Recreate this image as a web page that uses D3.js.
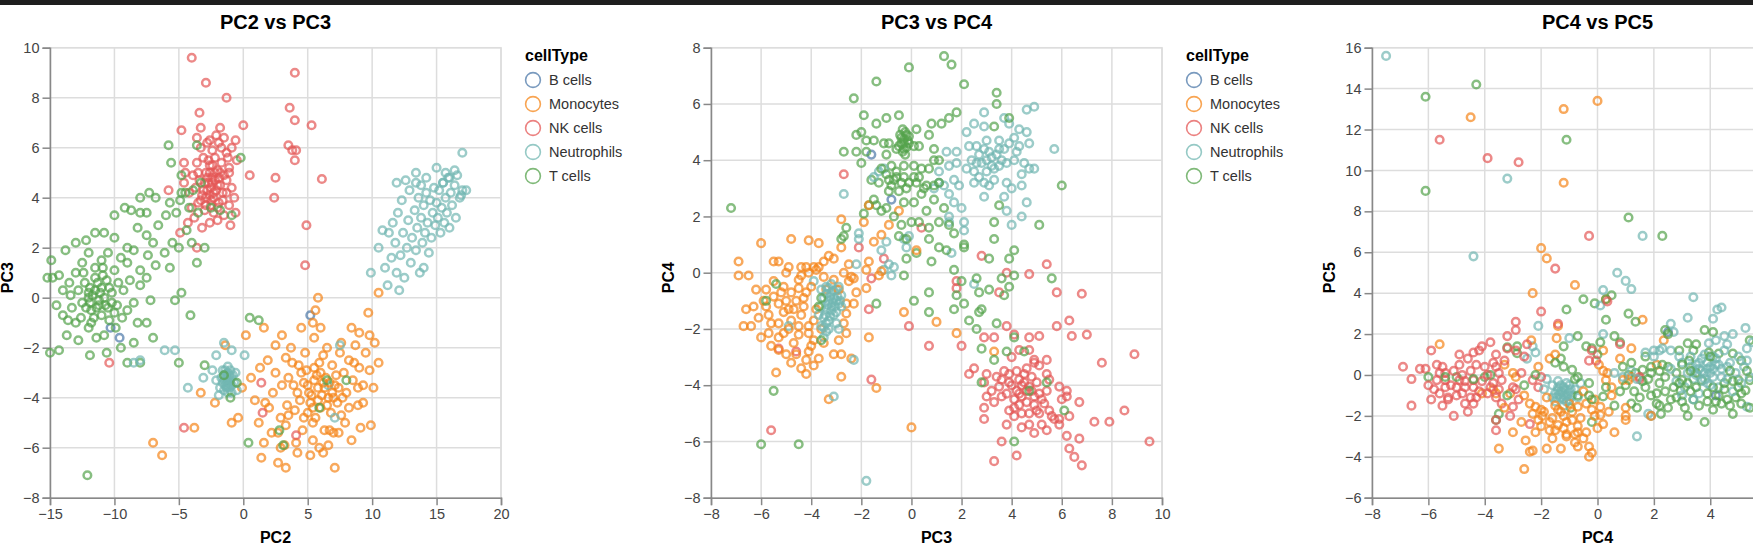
<!DOCTYPE html>
<html>
<head>
<meta charset="utf-8">
<script src="https://cdn.jsdelivr.net/npm/d3@7"></script>
<style>
  body { margin: 0; background: #fff; }
  svg { display: block; font-family: "Liberation Sans", Arial, sans-serif; }
</style>
</head>
<body>
<svg id="chart" width="1753" height="552"></svg>
<script>
"use strict"

// Categories + colours
const cellTypes = ['B cells', 'Monocytes', 'NK cells', 'Neutrophils', 'T cells']
const typeColors = ['#4c78a8', '#f58518', '#e45756', '#72b7b2', '#54a24b']

// Axis domains / ticks per principal component
const pc2Domain = [-15, 20]
const pc3Domain = [-8, 10]
const pc4Domain = [-8, 8]
const pc5Domain = [-6, 16]
const pc2Ticks = [-15, -10, -5, 0, 5, 10, 15, 20]
const pc3Ticks = [-8, -6, -4, -2, 0, 2, 4, 6, 8, 10]
const pc4Ticks = [-8, -6, -4, -2, 0, 2, 4, 6, 8]
const pc5Ticks = [-6, -4, -2, 0, 2, 4, 6, 8, 10, 12, 14, 16]

/****** PC2 vs PC3 ******/
const pc2pc3_B = [[-9.6,-1.6],[5.2,-0.7],[-10.3,-1.2]]
const pc2pc3_Mono = [
  [-7.0,-5.8],[-6.3,-6.3],[-3.8,-5.2],[-2.2,-4.2],[-0.9,-5.0],[-0.4,-4.8],[-0.1,-3.6],[0.9,-4.1],[1.2,-5.0],[1.4,-6.4],
  [1.6,-5.8],[1.7,-4.2],[2.0,-4.4],[2.7,-6.6],[3.3,-6.8],[2.9,-6.0],[3.2,-5.9],[4.1,-5.8],[4.2,-6.2],[2.9,-4.8],
  [3.5,-4.7],[2.7,-5.4],[3.3,-5.1],[2.2,-5.4],[5.4,-5.7],[5.9,-6.0],[6.6,-5.9],[7.1,-6.8],[8.4,-5.7],[9.1,-5.2],
  [9.9,-5.1],[7.9,-5.0],[10.1,-3.6],[8.9,-4.3],[9.3,-4.2],[6.3,-5.3],[6.7,-5.3],[7.0,-5.4],[7.4,-5.4],[4.7,-4.8],
  [5.4,-5.0],[5.6,-4.8],[2.5,-3.0],[3.0,-3.5],[3.5,-3.2],[3.8,-2.6],[4.2,-3.8],[4.5,-3.0],[4.8,-2.2],[5.0,-3.5],
  [5.2,-4.2],[5.5,-2.8],[5.8,-3.6],[6.0,-4.4],[6.2,-2.3],[6.4,-3.2],[6.6,-4.0],[6.9,-2.7],[7.1,-3.5],[7.3,-4.2],
  [7.5,-2.2],[7.8,-3.0],[8.0,-3.8],[8.2,-2.5],[8.5,-3.3],[8.7,-1.9],[9.0,-2.8],[9.3,-3.5],[9.5,-2.2],[9.8,-1.5],
  [10.2,-1.8],[10.5,-2.6],[8.4,-1.2],[9.0,-1.4],[10.5,0.2],[9.7,-0.6],[5.8,0.0],[5.6,-0.5],[5.4,-1.0],[5.5,-1.6],
  [6.0,-1.2],[6.5,-2.0],[7.6,-1.8],[4.5,-1.2],[3.0,-1.5],[2.5,-1.9],[3.7,-2.0],[4.0,-4.5],[4.6,-5.3],[5.2,-6.3],
  [6.2,-6.2],[5.0,-4.6],[6.1,-3.9],[6.8,-4.6],[7.6,-4.7],[8.2,-4.4],[3.4,-4.3],[2.3,-3.8],[1.9,-2.5],[1.3,-2.8],
  [0.6,-3.2],[-1.4,-1.9],[-3.3,-3.8],[0.2,-1.5],[1.6,-1.2],[5.7,-3.1],[6.3,-3.6],[5.3,-3.9],[4.4,-4.1],[7.0,-4.0],
  [6.7,-3.4],[5.9,-2.6],[4.9,-2.9],[3.9,-3.5],[8.6,-2.6],[7.4,-3.6],
  [5.5,-3.3],[6.0,-3.0],[6.5,-4.3],[5.8,-4.1],[6.2,-3.4],[5.1,-3.8],[4.7,-3.4],[7.2,-3.1],[7.7,-4.0],[6.9,-3.8],
  [5.4,-4.4],[4.3,-2.7],[3.3,-2.4],[8.9,-3.6],[9.8,-2.9]
]
const pc2pc3_NK = [
  [-4.0,9.6],[-2.9,8.6],[-1.3,8.0],[4.0,9.0],[3.6,7.6],[4.0,7.1],[5.3,6.9],[3.5,6.1],[3.8,5.9],[4.1,5.9],
  [4.0,5.5],[2.5,4.8],[6.1,4.75],[2.4,4.0],[-3.4,7.4],[-4.8,6.7],[-3.3,6.8],[-1.8,6.8],[0.0,6.9],[-3.6,6.4],
  [-2.6,6.3],[-2.1,6.5],[-1.7,6.0],[-0.6,6.3],[-0.9,6.0],[-0.5,5.5],[0.5,4.9],[-1.2,5.6],[-1.1,5.0],[-1.3,4.7],
  [-4.6,5.4],[-4.5,5.0],[-4.6,4.6],[-5.8,4.3],
  [-4.3,3.0],[-3.8,3.2],[-3.2,2.8],[-2.6,3.0],[-2.0,3.1],[-1.5,3.3],[-1.0,2.9],[-0.6,3.4],
  [-4.0,3.6],[-3.5,3.8],[-3.0,3.5],[-2.5,3.7],[-2.0,3.6],[-1.6,3.9],[-1.1,3.7],[-0.7,4.0],
  [-4.2,4.2],[-3.7,4.4],[-3.2,4.1],[-2.8,4.3],[-2.3,4.2],[-1.8,4.5],[-1.3,4.2],[-0.9,4.4],
  [-3.9,4.9],[-3.4,4.7],[-2.9,5.0],[-2.4,4.8],[-2.0,5.1],[-1.5,4.9],[-1.1,5.2],
  [-3.6,5.4],[-3.1,5.6],[-2.6,5.3],[-2.2,5.6],[-1.7,5.4],[-1.3,5.8],
  [-3.3,6.0],[-2.8,6.2],[-2.4,5.9],[-1.9,6.2],[-1.5,6.4],
  [-2.7,4.6],[-2.5,4.4],[-2.2,4.7],[-2.9,4.0],[-2.6,5.0],[-3.0,4.6],[-2.3,4.0],[-1.9,4.8],[-2.4,5.3],[-2.1,4.3],
  [-2.6,4.1],[-2.4,4.6],[-2.8,4.8],[-2.2,5.0],[-3.1,4.3],[-2.0,4.5],[-2.5,3.9],[-2.7,5.5],[-1.8,5.0],[-3.3,3.9],
  [-2.3,3.4],[-1.6,4.2],[-3.5,5.0],[-2.9,3.7],[-1.9,3.8],
  [-10.4,-2.6],[-4.6,-5.2],[1.5,-4.6],[1.4,-3.4],[4.1,-5.5],[4.9,2.9],[4.8,1.3],[-4.9,2.6],[-3.6,2.0]
]
const pc2pc3_Neu = [
  [11.0,1.2],[11.2,0.5],[11.5,1.6],[11.8,2.2],[11.9,1.0],[12.2,1.7],[12.4,2.6],[12.5,0.8],[12.7,2.0],[12.8,3.1],
  [13.0,1.4],[13.1,2.4],[13.3,3.5],[13.4,1.9],[13.5,2.8],[13.6,4.0],[13.8,3.2],[13.9,2.2],[14.0,3.7],[14.1,2.6],
  [14.2,4.2],[14.3,3.0],[14.5,3.9],[14.6,2.4],[14.7,3.4],[14.8,4.4],[14.9,2.9],[15.0,3.8],[15.1,3.2],[15.2,4.3],
  [15.3,2.6],[15.4,3.6],[15.5,4.6],[15.6,3.0],[15.7,4.0],[15.8,3.4],[15.9,4.8],[16.0,2.8],[16.1,4.2],[16.2,3.7],
  [16.4,4.5],[16.5,3.2],[16.6,4.9],[16.8,4.0],[17.0,4.3],[17.0,5.8],[17.3,4.3],[16.9,4.1],[13.4,5.0],[11.9,4.6],
  [12.6,4.7],[13.4,4.6],[16.0,4.8],[15.5,4.6],[12.0,3.4],[12.3,3.9],[12.9,4.3],[11.6,3.0],[10.8,2.7],[10.5,2.0],
  [11.3,2.6],[9.9,1.0],[13.7,1.0],[14.4,1.8],[12.1,0.3],[14.0,1.2],[16.4,5.1],[15.0,5.2],[14.2,4.8],[13.8,4.5],
  [15.7,5.0],
  [-1.6,-3.4],[-1.5,-3.1],[-1.4,-3.5],[-1.3,-3.2],[-1.2,-3.4],[-1.1,-3.1],[-1.0,-3.3],[-0.9,-3.5],[-1.3,-3.6],[-1.1,-3.6],
  [-1.2,-3.0],[-1.4,-2.9],[-1.0,-2.9],[-0.8,-3.1],[-1.5,-3.7],[-1.2,-3.8],[-0.9,-3.8],[-1.7,-3.2],[-1.6,-2.9],[-0.7,-3.4],
  [-1.3,-3.3],[-1.15,-3.25],[-1.05,-3.45],[-1.35,-3.05],[-1.25,-3.55],[-0.95,-3.15],[-1.45,-3.3],[-1.2,-2.75],[-1.8,-3.6],[-0.6,-3.0],
  [-1.9,-3.9],[-0.5,-3.7],[-2.1,-3.3],
  [-4.3,-3.6],[7.1,-4.8],[6.6,-3.5],[-8.5,-2.6],[-8.0,-2.5],[-6.1,-2.1],[-5.3,-2.1],[-2.1,-2.3],[-0.9,-2.1],[-1.5,-1.8],
  [7.5,-1.9],[-2.4,-2.9],[0.1,-2.3],[-3.1,-3.2]
]
const pc2pc3_T = [
  [-15.0,-2.2],[-14.3,-2.1],[-15.2,0.8],[-14.8,0.8],[-14.3,0.9],[-14.9,1.5],[-13.8,1.9],[-13.0,2.2],[-12.2,2.3],[-11.5,2.6],
  [-10.8,2.6],[-10.0,2.4],[-10.0,3.3],[-9.2,3.6],[-8.7,3.5],[-8.0,3.4],[-8.0,4.0],[-7.5,3.4],
  [-14.0,0.3],[-13.5,0.6],[-13.0,1.0],[-12.5,1.4],[-12.0,1.8],[-11.5,1.2],[-11.0,1.5],[-10.5,1.8],[-10.0,1.1],[-9.5,1.6],
  [-9.0,1.4],[-8.8,0.7],[-8.0,0.5],[-7.5,0.8],[-7.2,-0.1],[-7.0,-1.6],[-7.5,-1.0],
  [-14.5,-0.3],[-14.0,-0.7],[-13.3,-0.4],[-13.0,-1.0],[-12.5,-0.2],[-12.0,0.2],[-11.8,-0.5],[-11.2,-0.1],[-11.0,0.4],[-10.6,0.7],
  [-10.2,0.2],[-9.8,-0.3],[-9.3,0.3],[-9.0,-0.5],[-8.5,-0.2],[-8.2,-1.0],
  [-13.7,-1.5],[-12.8,-1.7],[-12.0,-1.2],[-11.4,-1.6],[-10.8,-1.5],[-10.4,-0.9],[-9.9,-1.2],[-9.5,-2.0],[-9.0,-2.6],[-8.0,-2.6],
  [-8.5,-1.8],[-10.6,-2.2],[-11.9,-2.3],
  [-12.0,0.0],[-11.5,0.3],[-11.2,-0.3],[-10.8,0.0],[-11.6,-0.8],[-10.5,-0.4],[-12.3,0.6],[-11.9,-0.2],[-10.9,0.9],[-11.3,0.6],
  [-12.6,-0.8],[-10.0,-0.6],
  [-11.7,0.1],[-11.4,-0.4],[-11.1,0.2],[-10.7,-0.3],[-11.9,0.4],[-12.2,-0.4],[-10.4,0.4],[-11.5,0.8],[-11.0,-0.7],[-12.8,0.3],
  [-13.4,0.1],[-10.2,-0.2],[-9.7,0.6],[-12.4,1.0],[-11.8,-1.0],[-10.9,1.2],[-13.6,-0.9],[-9.4,-0.8],
  [-9.0,2.0],[-8.5,1.9],[-8.2,2.8],[-7.5,2.5],[-7.0,2.2],[-6.6,2.9],[-6.0,3.3],[-5.7,3.8],[-5.2,3.4],[-4.9,3.9],
  [-4.5,4.2],[-4.2,3.6],[-3.9,4.3],[-3.5,3.4],[-3.3,4.6],[-5.5,2.2],[-6.1,1.8],[-5.7,1.2],[-5.0,2.0],[-4.4,2.7],
  [-4.0,2.2],[-6.8,1.3],[-7.4,1.7],[-8.0,1.1],[-4.8,0.2],[-4.1,-0.7],[-3.6,1.4],[-3.0,2.0],[-5.3,-0.1],
  [-5.8,6.1],[-3.6,6.1],[-5.6,5.4],[-4.8,4.9],[-0.2,5.6],[-7.3,4.2],[-6.8,4.0],[-4.8,4.2],[-2.5,3.6],[-1.8,3.5],
  [-0.9,3.3],[0.5,-0.8],[1.2,-0.9],[-12.1,-7.1],[0.4,-5.8],[2.8,-5.3],[3.1,-5.9],[5.9,-4.4],[-1.0,-4.0],[-3.0,-2.7],
  [-5.0,-2.6],[-1.5,-3.1],[-0.5,-3.4],[8.0,-3.3],[6.5,-3.3]
]

/****** PC3 vs PC4 ******/
const pc3pc4_B = [[-1.6,4.2],[-0.8,2.6]]
const pc3pc4_Mono = [
  [-6.0,1.05],[-4.8,1.2],[-4.1,1.15],[-3.7,1.05],[-6.9,0.4],[-6.9,-0.1],[-6.5,-0.1],[-5.5,0.4],[-5.3,0.4],[-4.9,0.2],
  [-4.4,0.2],[-4.2,0.2],[-3.9,0.2],[-3.7,0.2],[-3.1,0.5],[-2.5,0.3],[-2.3,-0.2],[-2.5,-0.3],[-5.5,-0.3],[-5.1,-0.5],
  [-4.8,-0.7],[-4.5,-0.55],[-4.2,-0.7],[-6.3,-1.2],[-5.9,-1.0],[-5.5,-0.85],[-5.3,-1.1],[-5.8,-1.2],[-6.1,-1.6],[-5.7,-1.5],
  [-5.1,-1.4],[-4.9,-1.3],[-4.8,-1.7],[-5.3,-1.8],[-6.7,-1.9],[-6.4,-1.9],[-6.0,-2.3],[-5.7,-2.15],[-5.3,-2.3],[-5.1,-2.15],
  [-4.5,-2.2],[-4.1,-1.9],[-5.3,-2.75],[-4.6,-2.9],[-4.1,-2.8],[-3.7,-3.05],[-4.2,-3.1],[-4.4,-3.4],[-4.2,-3.6],[-5.4,-3.55],
  [-4.8,-3.2],[-3.1,-2.9],[-2.8,-2.9],[-2.8,-3.7],[-2.4,-3.05],[-3.3,-4.5],[-4.5,-0.25],[-4.1,0.0],[-3.8,0.1],[-3.5,-0.15],
  [-3.1,-0.25],[-2.7,0.0],[-2.4,-0.15],[-2.6,-1.1],[-2.3,-1.1],[-2.6,-1.45],[-2.7,-1.8],[-2.6,-2.15],[-2.9,-2.4],[-4.3,-1.2],
  [-3.9,-1.7],[-4.5,-1.9],[-4.1,-2.15],[-2.8,1.9],[-2.8,0.9],[-1.9,1.8],[-1.7,2.4],[-1.5,1.1],[-1.2,1.35],[-0.9,1.7],
  [-1.7,0.4],[-1.8,0.1],[-1.8,-0.55],[-1.2,0.05],[-1.3,-0.1],[-1.7,-2.3],[-1.4,-4.1],[-0.3,-1.4],[1.0,-1.75],[0.0,-5.5],
  [0.2,0.8],[1.8,-2.15],[3.3,-2.8],[-0.5,2.2],[-4.6,-1.0],[-4.0,-0.5],[-3.4,-0.6],[-5.0,-1.0],[-4.4,-1.5],[-5.6,-2.6],
  [-3.5,-2.5],[-3.9,-2.4],[-4.7,-2.5],[-5.0,0.0],[-6.2,-0.6],[-3.3,0.6],[-2.2,-0.7],[-6.6,-1.3],
  [-4.7,-1.3],[-5.2,-0.7],[-4.3,-0.9],[-3.8,-1.3],[-5.6,-1.8],[-4.9,-2.0],[-4.0,-2.6],[-3.6,-2.0],[-5.8,-0.6],[-4.4,-0.1],
  [-3.5,0.4],[-2.9,-0.6],[-5.0,-2.9],[-3.9,-3.3]
]
const pc3pc4_NK = [
  [-2.7,3.5],[0.4,1.6],[-2.1,0.9],[-1.6,-0.2],[-1.7,-1.3],[-0.1,-1.9],[0.7,-2.6],[-1.6,-3.8],[-5.6,-5.6],[-5.3,-2.7],
  [-4.6,-2.8],[-1.1,0.5],[2.0,-2.6],[1.8,-0.3],[1.8,-0.55],[2.8,0.6],[3.8,0.0],[4.7,-0.05],[5.4,0.3],[5.8,-0.7],
  [6.8,-0.75],[5.8,-1.9],[6.3,-1.7],[6.4,-2.25],[7.0,-2.2],[3.5,-0.7],[3.8,-1.9],[8.9,-2.9],[7.6,-3.2],[8.5,-4.9],
  [7.3,-5.3],[7.9,-5.3],[9.5,-6.0],[6.2,-5.8],[6.7,-5.9],[6.3,-6.25],[6.5,-6.55],[6.8,-6.85],[3.3,-6.7],[4.2,-6.5],
  [3.6,-6.0],[2.9,-5.2],[2.9,-2.3],[3.3,-2.3],[4.1,-2.2],[4.7,-2.3],[5.1,-2.25],[2.3,-3.6],[2.5,-3.4],[3.0,-3.6],
  [3.4,-3.7],[3.7,-3.5],[3.9,-3.6],[4.2,-3.5],[4.5,-3.6],[4.9,-3.2],[5.1,-3.3],[5.4,-3.6],[2.9,-3.9],[3.2,-4.2],
  [3.5,-4.05],[3.8,-4.3],[4.1,-4.5],[4.3,-4.3],[4.7,-4.05],[4.9,-4.4],[5.1,-4.3],[5.4,-4.2],[3.0,-4.4],[3.3,-4.6],
  [3.9,-4.9],[4.3,-4.7],[4.7,-5.0],[5.0,-4.9],[5.3,-4.65],[5.6,-5.1],[5.9,-5.2],[6.0,-4.5],[6.2,-4.4],[6.3,-5.1],
  [6.7,-4.6],[3.8,-5.4],[4.1,-5.1],[4.4,-5.5],[4.7,-5.4],[4.9,-5.7],[5.2,-5.4],[5.4,-5.6],[5.7,-5.2],[5.9,-5.4],
  [2.9,-4.8],[4.0,-3.0],[4.3,-2.75],[4.7,-2.75],[4.9,-3.1],[5.4,-3.1],[5.5,-3.8],[5.0,-3.9],[5.9,-4.05],[6.2,-4.2],
  [4.4,-4.0],[4.6,-4.6],[4.2,-4.2],[4.8,-4.2],[4.5,-3.9],[4.0,-4.0],[3.6,-3.8],[4.8,-3.7],
  [4.4,-4.4],[4.6,-4.2],[4.3,-3.8],[4.9,-4.7],[4.1,-4.8],[5.2,-4.5],[3.9,-3.9],[4.6,-3.4],[5.1,-5.0],[3.6,-4.4],
  [5.5,-4.9],[4.4,-5.0]
]
const pc3pc4_Neu = [
  [4.9,5.9],[4.6,5.8],[2.9,5.7],[2.5,5.3],[2.2,5.0],[2.9,5.2],[3.0,4.7],[2.6,4.5],[2.3,4.5],[2.7,4.2],
  [3.1,4.3],[3.5,4.7],[3.7,5.5],[3.9,5.3],[4.1,4.8],[4.3,5.1],[4.6,5.0],[4.7,4.6],[4.3,4.5],[5.7,4.4],
  [4.5,3.9],[4.7,3.7],[4.9,3.7],[4.4,3.5],[4.4,3.1],[4.6,2.5],[4.0,3.0],[3.8,3.2],[3.7,2.7],[3.8,2.2],
  [4.4,2.0],[4.0,1.7],[2.2,3.7],[2.5,3.6],[2.7,3.4],[3.0,3.6],[3.3,3.7],[3.5,3.8],[3.8,3.9],[2.5,3.2],
  [2.9,3.2],[3.1,3.1],[2.9,2.7],[1.4,4.3],[1.8,4.3],[1.5,3.8],[1.8,3.9],[1.1,3.6],[1.3,3.1],[1.7,3.3],
  [1.9,3.1],[1.1,3.2],[0.9,3.0],[1.5,2.8],[1.7,2.5],[2.0,2.3],[2.1,1.8],[2.1,1.5],[1.5,2.0],[1.5,1.8],
  [1.6,0.7],[-1.3,3.6],[-1.1,3.7],[-1.5,3.4],[-2.7,2.8],[-2.1,1.4],[-2.1,1.2],[-2.2,0.3],[-1.2,0.8],[-1.0,1.1],
  [-0.7,0.2],[-0.8,-0.1],[-1.1,0.1],[-0.9,0.3],[-0.3,1.2],[-0.1,1.3],[-0.2,0.9],[2.5,-0.4],[-1.8,-7.4],[-3.1,-4.4],
  [-2.3,-3.1],[-4.9,-1.9],[-3.9,-0.3],[-2.9,-2.0],
  [3.0,4.0],[3.2,4.1],[2.8,3.9],[3.4,4.2],[3.6,4.0],[2.6,3.9],[3.9,4.6],[4.2,4.3],[3.3,3.3],[2.4,4.0],
  [3.7,4.4],[4.1,4.0],[3.2,3.8],[2.9,4.4],[3.5,4.4],
  [-3.6,-0.6],[-3.4,-0.5],[-3.2,-0.7],[-3.0,-0.6],[-2.8,-0.8],[-3.5,-0.9],[-3.3,-1.0],[-3.1,-0.9],[-2.9,-1.1],[-3.6,-1.2],
  [-3.4,-1.3],[-3.2,-1.2],[-3.0,-1.4],[-2.8,-1.2],[-3.5,-1.6],[-3.3,-1.7],[-3.1,-1.5],[-3.6,-1.9],[-3.4,-2.1],[-3.5,-2.3],
  [-3.3,-2.0],[-3.0,-1.8],[-3.2,-0.4],[-2.9,-0.5],[-3.7,-1.5],
  [-3.25,-0.85],[-3.15,-1.05],[-3.05,-1.2],[-3.35,-1.15],[-3.2,-1.35],[-2.95,-0.85],[-3.4,-0.75],[-3.1,-0.65],[-3.45,-1.5],[-3.25,-1.55],
  [-3.5,-1.95],[-3.4,-1.8],[-3.0,-1.0],[-2.85,-1.0],[-3.3,-0.55]
]
const pc3pc4_T = [
  [-7.2,2.3],[-2.3,6.2],[-1.4,6.8],[-0.1,7.3],[1.3,7.7],[1.6,7.4],[2.1,6.7],[3.4,6.4],[3.4,6.0],[-1.9,5.6],
  [-1.0,5.5],[-0.5,5.6],[-1.4,5.3],[0.2,5.1],[0.8,5.3],[1.2,5.3],[1.5,5.5],[1.8,5.7],[3.3,5.2],[3.9,5.5],
  [-2.2,4.9],[-2.0,5.0],[-1.8,4.7],[-1.5,4.7],[-2.7,4.3],[-2.2,4.3],[-2.0,3.9],[-1.8,4.3],
  [-0.4,4.8],[-0.2,4.9],[-0.3,4.4],[-0.1,4.6],[-0.5,4.5],[-0.25,5.0],[-0.35,4.3],[-0.15,4.7],[-0.3,4.6],[-0.45,4.9],
  [-0.3,4.75],[-0.2,4.45],[-0.4,4.6],[-0.25,4.2],[-0.1,4.85],[-0.35,5.1],
  [-1.1,4.6],[-0.9,4.6],[-0.6,4.4],[-1.0,4.2],[0.1,4.5],[0.3,4.5],[0.7,4.9],[0.9,4.4],[0.9,4.0],[1.1,4.0],
  [0.7,3.7],[0.4,3.7],[0.1,3.8],[-0.3,3.8],[-0.8,3.8],[-1.6,3.3],[-1.3,3.2],[-0.9,3.3],[-0.6,3.4],[-0.3,3.4],
  [0.1,3.4],[0.3,3.4],[0.6,3.1],[0.9,3.1],[1.1,3.2],[-0.3,2.5],[0.1,2.5],[0.4,2.8],[-1.7,2.4],[-1.4,2.4],
  [-1.0,2.3],[-1.9,2.1],[-0.4,1.7],[0.0,1.8],[0.3,1.8],[0.7,1.6],[-0.5,1.3],[-0.2,1.2],[0.2,0.7],[0.7,1.2],
  [1.1,0.9],[1.4,0.8],[1.1,1.8],[1.5,1.7],[1.7,1.4],[2.1,1.0],[2.1,0.9],[-0.2,0.5],[0.8,0.4],[-2.6,1.6],
  [-2.7,1.3],[-2.8,1.2],[-0.3,-0.1],[1.7,0.1],[2.0,-0.3],[1.8,-0.8],[2.1,-1.1],[1.7,-1.3],[0.7,-0.7],[0.7,-1.4],
  [0.1,-1.0],[-1.4,-1.1],[2.3,-1.7],[2.6,-2.0],[2.7,-1.4],[2.8,-1.3],[2.7,-0.7],[2.6,-0.2],[3.1,-0.6],[3.3,1.8],
  [3.3,1.2],[3.1,0.5],[3.5,2.4],[4.1,0.8],[3.9,0.5],[4.1,-0.1],[3.6,-0.2],[3.7,-0.8],[3.9,-0.5],[5.1,1.7],
  [5.6,-0.2],[6.0,3.1],[3.4,-1.8],[2.8,-2.7],[3.3,-3.1],[3.8,-2.8],[4.5,-2.8],[4.1,-2.3],[2.8,-3.9],[5.4,-3.9],
  [6.1,-4.9],[4.1,-6.0],[-6.0,-6.1],[-4.5,-6.1],[-5.5,-4.2],[-5.8,-1.0],[-5.4,-0.4],[-3.6,-0.9],[-3.7,-1.2],[-3.6,-2.4],
  [4.7,-4.2],[-1.0,3.5],[-0.8,3.1],[-0.6,3.6],[-0.4,3.2],[-0.2,3.0],[0.2,3.2],[0.5,3.0],[-1.2,3.7],[-0.9,2.9],
  [-1.5,2.6],[-1.2,2.2],[0.6,2.2],[0.9,2.6],[1.3,2.3],[-0.7,2.0],[-0.7,3.3],[-0.5,2.9],[-0.1,3.2]
]

/****** PC4 vs PC5 ******/
const pc4pc5_B = [[2.5,2.1],[4.2,-1.0]]
const pc4pc5_Mono = [
  [-5.6,1.5],[-2.0,6.2],[-1.8,5.7],[-0.8,4.4],[-2.3,4.0],[-1.4,2.4],[-2.35,1.7],[-1.45,1.8],[0.3,3.7],[1.6,2.7],
  [2.35,1.7],[0.2,1.2],[0.05,0.5],[0.2,0.2],[0.8,0.8],[1.2,1.3],[2.1,0.5],[-3.3,0.5],[-3.0,0.1],[-2.9,-0.1],
  [-3.1,-0.9],[-4.1,-0.9],[-3.7,-0.7],[-3.6,-0.9],[-3.5,-3.6],[-3.0,-2.8],[-2.55,-3.2],[-2.3,-3.7],[-2.4,-3.75],[-1.8,-3.6],
  [-2.4,-1.4],[-2.2,-1.55],[-2.0,-1.7],[-2.3,-1.9],[-2.1,-2.2],[-1.96,-2.0],[-1.7,-2.3],[-2.0,-2.5],[-1.7,-2.7],[-1.5,-2.7],
  [-1.4,-2.45],[-1.2,-2.0],[-1.1,-2.3],[-0.9,-2.2],[-0.7,-2.5],[-1.1,-2.9],[-0.8,-2.9],[-0.7,-2.8],[-0.4,-2.8],[-1.1,-3.0],
  [-0.8,-3.3],[-0.7,-3.5],[-0.3,-3.5],[-0.3,-4.0],[-1.4,-1.7],[-1.0,-1.4],[-0.7,-1.55],[-0.4,-1.4],[-0.1,-1.2],[0.1,-1.55],
  [-0.2,-1.7],[-0.1,-2.0],[0.2,-2.4],[0.0,-2.6],[0.1,-1.96],[1.0,-2.0],[1.0,-2.2],[1.0,-1.6],[0.9,-0.25],[1.1,-0.25],
  [1.2,-0.1],[0.3,-0.25],[0.35,0.1],[0.5,-0.6],[1.9,-2.0],[-1.5,1.0],[-1.7,0.8],[-2.1,0.4],[-4.5,12.6],[-1.2,13.0],
  [0.0,13.4],[-1.2,9.4],[-2.6,-4.6],[-0.2,-3.8],[-1.8,-1.1],[-1.5,-1.5],[-2.6,-1.0],[-2.7,-2.3],[-0.5,-0.8],[0.5,-1.0],
  [-3.3,-1.6],[-1.3,-3.6],[0.6,-2.8],
  [-1.9,-1.8],[-1.6,-2.1],[-1.3,-1.8],[-0.9,-1.8],[-0.6,-2.1],[-1.2,-2.6],[-1.6,-3.1],[-0.5,-3.1],[-2.2,-2.8],[0.4,-1.8]
]
const pc4pc5_NK = [
  [-6.9,0.4],[-6.6,-0.2],[-6.6,-1.5],[-6.3,0.3],[-6.1,0.3],[-5.9,1.2],[-5.7,0.5],[-5.5,0.4],[-5.6,0.1],[-5.4,0.1],
  [-5.7,-0.25],[-5.4,-0.25],[-5.6,-0.9],[-5.3,-1.1],[-5.3,-1.2],[-5.1,-2.0],[-5.0,-0.6],[-4.9,-0.25],[-4.7,-0.6],[-4.4,-0.25],
  [-4.4,-0.6],[-4.9,0.5],[-4.6,0.8],[-4.4,1.1],[-4.2,1.2],[-4.1,1.4],[-3.8,1.6],[-4.7,-1.4],[-4.4,-1.4],[-4.3,-1.1],
  [-4.0,0.4],[-3.7,0.6],[-3.6,0.4],[-3.5,0.1],[-3.4,-0.25],[-3.7,-0.4],[-3.9,-0.9],[-3.6,-1.1],[-3.4,-1.4],[-3.2,1.9],
  [-2.9,2.2],[-2.9,2.6],[-3.2,1.3],[-2.9,1.2],[-3.0,-0.6],[-3.0,-1.55],[-3.6,-2.2],[-3.6,-2.7],[-3.1,-2.0],[-2.6,0.9],
  [-2.7,0.1],[-2.3,-0.25],[-2.1,-0.6],[-2.4,-2.4],[-2.0,3.1],[-1.5,5.2],[-1.4,2.5],[-2.0,-0.1],[-0.3,0.7],[-0.05,0.7],
  [-0.2,1.2],[0.35,3.6],[0.8,1.5],[1.5,-0.2],[1.5,-0.1],[-2.9,-0.7],[-2.8,-1.2],[-5.6,11.5],[-3.9,10.6],[-2.8,10.4],
  [-0.3,6.8],[-5.2,-0.5],[-4.8,0.0],[-4.5,0.2],[-5.0,-1.0],[-4.2,-0.8],[-3.9,0.0],[-6.0,-0.5],[-5.8,-0.7],[-4.6,-1.8],
  [-5.9,-1.2],[-3.3,0.7],[-2.5,1.5],
  [-5.1,0.2],[-4.7,-0.3],[-4.3,0.5],[-3.8,-0.6],[-5.4,-0.6],[-4.1,-0.3],[-4.8,-0.9],[-3.5,-0.7],[-5.5,-1.5],[-4.9,1.0],
  [-3.6,1.0],[-4.5,-1.1]
]
const pc4pc5_Neu = [
  [-7.5,15.6],[-3.2,9.6],[-4.4,5.8],[-2.1,2.4],[-2.3,1.4],[-2.2,1.1],[-2.5,0.8],[-1.0,1.8],[0.2,2.0],[0.1,3.4],
  [0.2,4.15],[0.7,5.0],[1.0,4.6],[1.2,4.2],[3.2,2.8],[3.4,3.8],[4.1,2.75],[4.25,3.2],[4.4,3.3],[2.6,2.5],
  [2.7,2.1],[2.0,1.2],[2.2,1.2],[2.6,1.2],[5.25,2.3],[4.8,2.0],[4.5,1.9],[4.2,1.7],[3.95,1.55],[1.4,-3.0],
  [1.9,-2.0],[1.8,-1.9],[5.3,-1.55],[1.6,6.8],
  [-1.8,-0.2],[-1.6,-0.5],[-1.5,-0.9],[-1.4,-0.3],[-1.3,-1.1],[-1.2,-0.6],[-1.1,-1.3],[-1.0,-0.8],[-0.9,-1.0],[-1.3,-0.8],
  [-1.2,-1.0],[-1.0,-1.2],[-0.8,-0.7],[-1.5,-1.3],[-1.4,-0.6],[-1.1,-0.4],[-0.7,-1.1],[-1.6,-1.1],[-1.2,-1.5],[-1.0,-0.5],
  [-1.9,-0.7],[-0.6,-0.4],
  [-1.25,-0.85],[-1.15,-0.7],[-1.35,-0.95],[-1.05,-0.95],[-1.2,-1.2],[-1.4,-0.75],[-1.1,-1.05],[-1.3,-0.5],[-0.95,-0.7],[-1.45,-1.1],
  [2.6,0.3],[2.8,-0.3],[3.0,0.6],[3.1,-0.6],[3.2,0.1],[3.3,0.9],[3.4,-0.2],[3.5,0.5],[3.6,-0.9],[3.7,0.2],
  [3.8,1.0],[3.9,-0.4],[4.0,0.4],[4.1,-0.1],[4.2,0.8],[4.3,-0.6],[4.4,0.3],[4.5,1.2],[4.6,-0.2],[4.7,0.6],
  [4.8,-0.8],[4.9,0.1],[5.0,0.9],[5.1,-0.4],[5.2,0.4],[5.3,1.3],[5.4,-0.1],[3.5,0.0],[3.7,-0.3],[3.9,0.6],
  [4.1,0.3],[3.3,0.4],[3.6,0.3],[3.8,0.1],[4.0,-0.5],[4.3,0.5],[3.4,-1.2],[3.0,-1.0],[2.9,0.9],[4.6,1.5],
  [5.3,0.7],[5.5,1.6],
  [3.6,0.6],[3.8,-0.2],[4.0,0.1],[4.2,0.5],[3.9,0.3],[4.4,-0.1],[3.7,0.8],[4.1,0.9],[3.4,0.2],[4.6,0.4],
  [0.6,0.1],[0.9,-0.1],[1.2,0.2],[1.4,-0.2],[1.7,1.1],[2.0,0.9],[2.3,1.3]
]
const pc4pc5_T = [
  [-6.1,13.6],[-4.3,14.2],[-1.1,11.5],[-6.1,9.0],[1.1,7.7],[2.3,6.8],[-1.1,3.2],[-0.5,3.7],[-0.1,3.5],[0.3,3.7],
  [0.5,3.9],[0.3,2.7],[-0.7,1.9],[-2.85,1.4],[-3.2,1.35],[-2.85,1.06],[-1.2,1.4],[-1.3,0.8],[-0.4,1.4],[-0.2,1.3],
  [0.1,1.6],[0.0,1.0],[0.6,1.9],[0.8,1.6],[1.1,3.0],[1.35,2.6],[2.4,2.2],[2.5,2.0],[3.2,1.55],[3.4,1.2],
  [3.5,1.5],[3.8,2.2],[4.1,2.1],[-3.5,-1.9],[-3.6,-2.2],[-4.0,-0.1],[-3.8,0.0],[-6.0,-0.1],[-5.0,-0.1],[-0.95,-1.6],
  [-0.2,-2.3],[0.8,-0.8],[0.9,0.4],[1.1,0.0],[1.35,0.1],[1.6,0.25],[1.7,0.9],[1.9,0.4],[1.2,-1.4],[1.5,-1.1],
  [1.7,-0.6],[1.9,-1.0],[2.2,-0.4],[2.4,-0.1],[2.5,0.4],[2.8,0.1],[3.0,-0.25],[2.95,-0.75],[2.1,-1.4],[2.25,-1.9],
  [2.5,-1.6],[2.8,-1.1],[3.2,-2.0],[3.4,-1.2],[3.8,-2.3],[4.1,-1.7],[4.4,-1.4],[4.8,-1.9],[4.9,-1.1],[5.1,-1.4],
  [5.25,-0.75],[5.4,-0.25],[2.9,1.2],[3.25,0.7],[3.95,1.1],[4.3,1.05],[4.8,1.05],[5.1,0.7],[5.4,1.7],[3.5,0.1],
  [3.7,-0.25],[4.1,-0.6],[4.5,-0.4],[5.0,-0.25],[-0.2,-1.2],[0.2,-1.05],[-0.7,-1.0],[-0.7,-0.1],[-0.3,-0.4],[-1.2,0.4],
  [-0.9,0.25],[1.0,-0.5],[1.3,-0.8],[1.6,-0.3],[1.9,0.1],[2.1,-0.9],[2.3,0.5],[2.6,-1.2],[2.9,-0.4],[3.1,-1.6],
  [3.3,-0.8],[3.6,-1.5],[3.9,-0.9],[4.2,-1.3],[4.5,-0.7],[4.8,-0.3],[5.1,-0.9],[5.4,-1.6],[0.3,-0.6],[-0.3,-1.0],
  [-0.8,-0.2],[-1.5,0.6],[-2.2,0.0],[-2.6,-0.5],[-3.2,-1.0],[-4.4,-0.2],[-5.4,-0.1],[0.6,-1.5],[1.4,-1.6],[2.2,-1.5],
  [3.0,0.5],[4.0,0.9],[4.7,0.2],
  [2.2,0.2],[2.7,-0.6],[3.2,-0.4],[3.5,-0.6],[3.9,-1.3],[4.3,-1.0],[4.6,-1.2],[5.0,-0.6],[5.3,0.2],[2.4,-0.8],
  [1.8,-0.2],[3.0,-1.3],[4.7,-1.5],[1.2,0.6],[3.3,0.2]
]

const panels = [
  { title: 'PC2 vs PC3', xTitle: 'PC2', yTitle: 'PC3', xDomain: pc2Domain, yDomain: pc3Domain,
    xTicks: pc2Ticks, yTicks: pc3Ticks, series: [pc2pc3_B, pc2pc3_Mono, pc2pc3_NK, pc2pc3_Neu, pc2pc3_T] },
  { title: 'PC3 vs PC4', xTitle: 'PC3', yTitle: 'PC4', xDomain: pc3Domain, yDomain: pc4Domain,
    xTicks: pc3Ticks, yTicks: pc4Ticks, series: [pc3pc4_B, pc3pc4_Mono, pc3pc4_NK, pc3pc4_Neu, pc3pc4_T] },
  { title: 'PC4 vs PC5', xTitle: 'PC4', yTitle: 'PC5', xDomain: pc4Domain, yDomain: pc5Domain,
    xTicks: pc4Ticks, yTicks: pc5Ticks, series: [pc4pc5_B, pc4pc5_Mono, pc4pc5_NK, pc4pc5_Neu, pc4pc5_T] }
]

// Layout
const pageW = 1753
const plotW = 451, plotH = 450, plotTop = 47.7
const firstLeft = 50, panelGap = 661

const svg = d3.select('#chart')

// dark strip along the top of the screenshot
svg.append('rect').attr('x', 0).attr('y', 0).attr('width', pageW).attr('height', 5).attr('fill', '#1e1e1e')

panels.forEach((p, i) => {
  const left = firstLeft + i * panelGap
  const g = svg.append('g').attr('transform', `translate(${left},${plotTop})`)
  const x = d3.scaleLinear().domain(p.xDomain).range([0, plotW])
  const y = d3.scaleLinear().domain(p.yDomain).range([plotH, 0])
  // only ticks that land on the page (the last panel runs off the right edge)
  const xTicksShown = p.xTicks.filter(t => left + x(t) < pageW - 4)

  // grid + view border
  g.append('g').selectAll('line').data(p.xTicks).enter().append('line')
    .attr('x1', d => x(d)).attr('x2', d => x(d)).attr('y1', 0).attr('y2', plotH)
    .attr('stroke', '#ddd').attr('stroke-width', 1.5)
  g.append('g').selectAll('line').data(p.yTicks).enter().append('line')
    .attr('x1', 0).attr('x2', plotW).attr('y1', d => y(d)).attr('y2', d => y(d))
    .attr('stroke', '#ddd').attr('stroke-width', 1.5)
  g.append('rect').attr('width', plotW).attr('height', plotH)
    .attr('fill', 'none').attr('stroke', '#ddd').attr('stroke-width', 1.5)

  // axes
  const fmt = d3.format('')
  const xAxis = g.append('g').attr('transform', `translate(0,${plotH})`)
    .call(d3.axisBottom(x).tickValues(xTicksShown).tickSize(7.5).tickPadding(4).tickFormat(fmt))
  const yAxis = g.append('g')
    .call(d3.axisLeft(y).tickValues(p.yTicks).tickSize(7.5).tickPadding(3).tickFormat(fmt))
  for (const ax of [xAxis, yAxis]) {
    ax.select('.domain').attr('stroke', '#888').attr('stroke-width', 1.5)
    ax.selectAll('.tick line').attr('stroke', '#888').attr('stroke-width', 1.5)
    ax.selectAll('.tick text').attr('fill', '#444').style('font-size', '14.5px')
      .style('font-family', '"Liberation Sans", Arial, sans-serif')
  }

  // titles
  svg.append('text').attr('x', left + plotW / 2).attr('y', 29)
    .attr('text-anchor', 'middle').style('font-size', '20px').style('font-weight', 'bold')
    .attr('fill', '#000').text(p.title)
  svg.append('text').attr('x', left + plotW / 2).attr('y', 543)
    .attr('text-anchor', 'middle').style('font-size', '16px').style('font-weight', 'bold')
    .attr('fill', '#000').text(p.xTitle)
  svg.append('text').attr('transform', `translate(${left - 37},${plotTop + plotH / 2 + 5}) rotate(-90)`)
    .attr('text-anchor', 'middle').style('font-size', '16px').style('font-weight', 'bold')
    .attr('fill', '#000').text(p.yTitle)

  // points, interleaved round-robin across cell types
  const pts = []
  const maxLen = d3.max(p.series, s => s.length)
  for (let k = 0; k < maxLen; k++) {
    p.series.forEach((s, t) => { if (k < s.length) pts.push({ v: s[k], t: t }) })
  }
  g.append('g').selectAll('circle').data(pts).enter().append('circle')
    .attr('cx', d => x(d.v[0])).attr('cy', d => y(d.v[1])).attr('r', 3.8)
    .attr('fill', 'none').attr('stroke', d => typeColors[d.t])
    .attr('stroke-width', 2.5).attr('stroke-opacity', 0.7)

  // legend (the third panel's legend sits past the page edge)
  const legendLeft = left + plotW + 24
  if (legendLeft < pageW) {
    const lg = svg.append('g').attr('transform', `translate(${legendLeft},0)`)
    lg.append('text').attr('x', 0).attr('y', 61)
      .style('font-size', '16px').style('font-weight', 'bold').attr('fill', '#000').text('cellType')
    const rows = lg.selectAll('g.row').data(cellTypes).enter().append('g')
      .attr('transform', (d, k) => `translate(0,${80 + k * 24})`)
    rows.append('circle').attr('cx', 8).attr('cy', 0).attr('r', 7.4)
      .attr('fill', 'none').attr('stroke', (d, k) => typeColors[k])
      .attr('stroke-width', 1.6).attr('stroke-opacity', 0.75)
    rows.append('text').attr('x', 24).attr('y', 5)
      .style('font-size', '14.5px').attr('fill', '#333').text(d => d)
  }
})
</script>
</body>
</html>
